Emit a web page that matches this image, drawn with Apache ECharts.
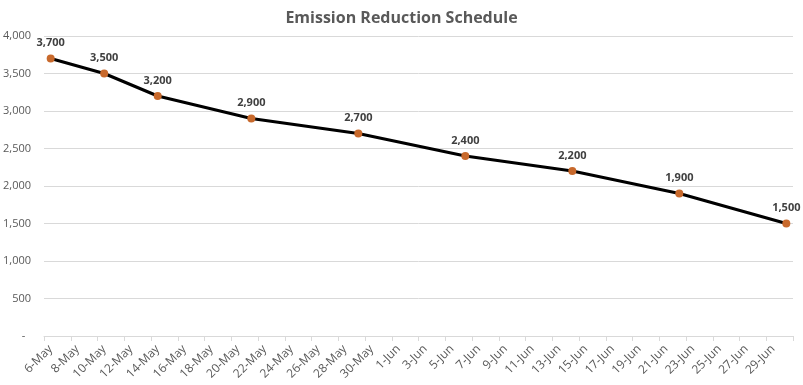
<!DOCTYPE html>
<html>
<head>
<meta charset="utf-8">
<script src="https://cdn.jsdelivr.net/npm/echarts@6/dist/echarts.min.js"></script>
<style>html,body{margin:0;padding:0;background:#fff}#c{width:803px;height:385px}</style>
</head>
<body>
<div id="c"></div>
<script>
const days = ['6-May','7-May','8-May','9-May','10-May','11-May','12-May','13-May','14-May','15-May','16-May','17-May','18-May','19-May','20-May','21-May','22-May','23-May','24-May','25-May','26-May','27-May','28-May','29-May','30-May','31-May','1-Jun','2-Jun','3-Jun','4-Jun','5-Jun','6-Jun','7-Jun','8-Jun','9-Jun','10-Jun','11-Jun','12-Jun','13-Jun','14-Jun','15-Jun','16-Jun','17-Jun','18-Jun','19-Jun','20-Jun','21-Jun','22-Jun','23-Jun','24-Jun','25-Jun','26-Jun','27-Jun','28-Jun','29-Jun','30-Jun'];
const dates = ['6-May','10-May','14-May','21-May','29-May','6-Jun','14-Jun','22-Jun','30-Jun'];
const values = [3700,3500,3200,2900,2700,2400,2200,1900,1500];

const font = '"Open Sans", "Liberation Sans", sans-serif';
const chart = echarts.init(document.getElementById('c'));
chart.setOption({
  animation: false,
  title: {
    text: 'Emission Reduction Schedule',
    left: 'center', top: 5,
    textStyle: {fontFamily: font, fontSize: 16, fontWeight: 'bold', color: '#595959'}
  },
  grid: {left: 42, right: 10, top: 36, bottom: 49, containLabel: false},
  xAxis: {
    type: 'category',
    data: days,
    boundaryGap: true,
    axisLine: {lineStyle: {color: '#D9D9D9'}},
    axisTick: {show: true, interval: 1, alignWithLabel: false, length: 5, lineStyle: {color: '#D9D9D9'}},
    axisLabel: {interval: 1, rotate: 45, margin: 11, fontFamily: font, fontSize: 12, color: '#595959'},
    splitLine: {show: false}
  },
  yAxis: {
    type: 'value',
    min: 0, max: 4000, interval: 500,
    axisLine: {show: false},
    axisTick: {show: false},
    splitLine: {lineStyle: {color: '#D9D9D9'}},
    axisLabel: {
      margin: 13, fontFamily: font, fontSize: 11, color: '#595959',
      formatter: v => v === 0 ? '-  ' : v.toLocaleString('en-US')
    }
  },
  series: [{
    type: 'line',
    data: dates.map((d, i) => [d, values[i]]),
    lineStyle: {color: '#000', width: 3},
    symbol: 'circle', symbolSize: 8,
    itemStyle: {color: '#C8692C'},
    label: {
      show: true, position: 'top', distance: 6,
      fontFamily: font, fontSize: 11, fontWeight: 'bold', color: '#404040',
      formatter: p => p.value[1].toLocaleString('en-US')
    }
  }]
});
</script>
</body>
</html>
